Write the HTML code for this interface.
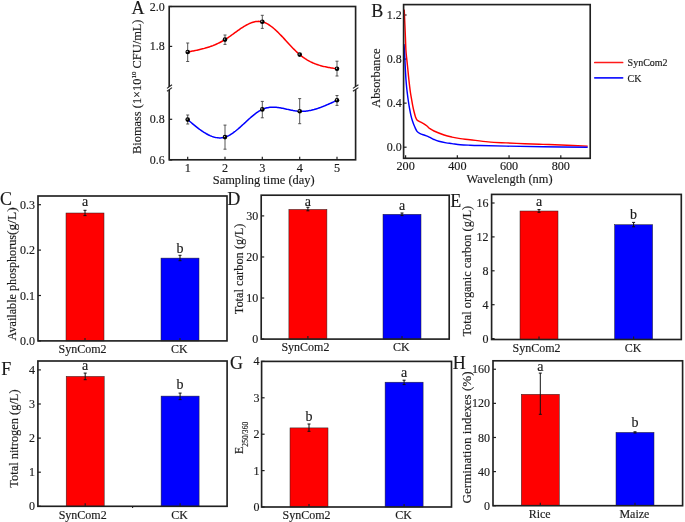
<!DOCTYPE html><html><head><meta charset="utf-8"><style>html,body{margin:0;padding:0;background:#fff;overflow:hidden}svg{display:block;will-change:transform}text{font-family:"Liberation Serif",serif;stroke:#1a1a1a;stroke-width:0.15px}</style></head><body><svg width="685" height="522" viewBox="0 0 685 522" font-family='"Liberation Serif", serif' fill="#1a1a1a">
<rect width="685" height="522" fill="#fff"/>
<path d="M187.70,52.00 L188.63,51.82 L189.56,51.65 L190.50,51.47 L191.43,51.29 L192.36,51.11 L193.29,50.93 L194.23,50.74 L195.16,50.55 L196.09,50.36 L197.02,50.16 L197.96,49.96 L198.89,49.75 L199.82,49.53 L200.75,49.31 L201.69,49.08 L202.62,48.85 L203.55,48.60 L204.48,48.35 L205.42,48.09 L206.35,47.82 L207.28,47.54 L208.22,47.24 L209.15,46.94 L210.08,46.63 L211.01,46.30 L211.94,45.96 L212.88,45.61 L213.81,45.24 L214.74,44.86 L215.68,44.47 L216.61,44.06 L217.54,43.63 L218.47,43.19 L219.41,42.73 L220.34,42.25 L221.27,41.76 L222.20,41.25 L223.13,40.72 L224.07,40.17 L225.00,39.60 L225.93,39.01 L226.87,38.40 L227.80,37.78 L228.73,37.14 L229.66,36.49 L230.59,35.84 L231.53,35.17 L232.46,34.49 L233.39,33.82 L234.32,33.14 L235.26,32.46 L236.19,31.78 L237.12,31.11 L238.06,30.44 L238.99,29.78 L239.92,29.13 L240.85,28.49 L241.78,27.87 L242.72,27.26 L243.65,26.67 L244.58,26.10 L245.52,25.56 L246.45,25.03 L247.38,24.54 L248.31,24.07 L249.25,23.63 L250.18,23.22 L251.11,22.85 L252.04,22.52 L252.98,22.22 L253.91,21.96 L254.84,21.75 L255.77,21.58 L256.71,21.46 L257.64,21.38 L258.57,21.36 L259.50,21.38 L260.44,21.47 L261.37,21.60 L262.30,21.80 L263.24,22.06 L264.17,22.37 L265.11,22.74 L266.04,23.17 L266.98,23.65 L267.91,24.17 L268.85,24.75 L269.78,25.36 L270.72,26.02 L271.65,26.72 L272.58,27.46 L273.52,28.23 L274.45,29.03 L275.39,29.87 L276.32,30.73 L277.26,31.62 L278.19,32.53 L279.13,33.47 L280.06,34.42 L281.00,35.39 L281.94,36.37 L282.87,37.36 L283.81,38.37 L284.74,39.38 L285.68,40.39 L286.61,41.41 L287.55,42.43 L288.48,43.44 L289.41,44.45 L290.35,45.46 L291.28,46.45 L292.22,47.43 L293.15,48.40 L294.09,49.36 L295.02,50.29 L295.96,51.20 L296.89,52.09 L297.83,52.96 L298.76,53.79 L299.70,54.60 L300.66,55.39 L301.61,56.15 L302.57,56.87 L303.53,57.57 L304.48,58.23 L305.44,58.87 L306.39,59.47 L307.35,60.05 L308.31,60.60 L309.26,61.12 L310.22,61.62 L311.18,62.09 L312.13,62.54 L313.09,62.97 L314.05,63.37 L315.00,63.76 L315.96,64.12 L316.92,64.46 L317.87,64.79 L318.83,65.10 L319.78,65.39 L320.74,65.67 L321.70,65.93 L322.65,66.18 L323.61,66.41 L324.57,66.63 L325.52,66.84 L326.48,67.04 L327.44,67.23 L328.39,67.41 L329.35,67.59 L330.31,67.76 L331.26,67.92 L332.22,68.07 L333.17,68.22 L334.13,68.37 L335.09,68.51 L336.04,68.66 L337.00,68.80" fill="none" stroke="#ff0000" stroke-width="1.5"/>
<path d="M187.70,119.60 L188.63,120.40 L189.56,121.20 L190.50,121.99 L191.43,122.78 L192.36,123.57 L193.29,124.34 L194.23,125.11 L195.16,125.87 L196.09,126.62 L197.02,127.36 L197.96,128.09 L198.89,128.79 L199.82,129.49 L200.75,130.16 L201.69,130.82 L202.62,131.45 L203.55,132.07 L204.48,132.66 L205.42,133.23 L206.35,133.77 L207.28,134.28 L208.22,134.77 L209.15,135.22 L210.08,135.65 L211.01,136.04 L211.94,136.40 L212.88,136.72 L213.81,137.01 L214.74,137.26 L215.68,137.47 L216.61,137.63 L217.54,137.76 L218.47,137.84 L219.41,137.88 L220.34,137.88 L221.27,137.82 L222.20,137.72 L223.13,137.56 L224.07,137.36 L225.00,137.10 L225.93,136.79 L226.87,136.43 L227.80,136.01 L228.73,135.55 L229.66,135.05 L230.59,134.51 L231.53,133.92 L232.46,133.30 L233.39,132.65 L234.32,131.96 L235.26,131.25 L236.19,130.51 L237.12,129.75 L238.06,128.96 L238.99,128.16 L239.92,127.34 L240.85,126.50 L241.78,125.66 L242.72,124.81 L243.65,123.95 L244.58,123.08 L245.52,122.22 L246.45,121.36 L247.38,120.50 L248.31,119.65 L249.25,118.81 L250.18,117.98 L251.11,117.16 L252.04,116.36 L252.98,115.58 L253.91,114.82 L254.84,114.09 L255.77,113.38 L256.71,112.70 L257.64,112.06 L258.57,111.45 L259.50,110.87 L260.44,110.34 L261.37,109.85 L262.30,109.40 L263.24,109.00 L264.17,108.64 L265.11,108.33 L266.04,108.06 L266.98,107.83 L267.91,107.64 L268.85,107.48 L269.78,107.36 L270.72,107.28 L271.65,107.22 L272.58,107.20 L273.52,107.20 L274.45,107.23 L275.39,107.28 L276.32,107.36 L277.26,107.45 L278.19,107.57 L279.13,107.70 L280.06,107.84 L281.00,108.01 L281.94,108.18 L282.87,108.36 L283.81,108.55 L284.74,108.75 L285.68,108.95 L286.61,109.15 L287.55,109.36 L288.48,109.56 L289.41,109.76 L290.35,109.96 L291.28,110.15 L292.22,110.33 L293.15,110.51 L294.09,110.67 L295.02,110.82 L295.96,110.95 L296.89,111.07 L297.83,111.17 L298.76,111.24 L299.70,111.30 L300.66,111.33 L301.61,111.34 L302.57,111.32 L303.53,111.28 L304.48,111.22 L305.44,111.14 L306.39,111.03 L307.35,110.91 L308.31,110.76 L309.26,110.60 L310.22,110.41 L311.18,110.21 L312.13,109.99 L313.09,109.76 L314.05,109.51 L315.00,109.24 L315.96,108.96 L316.92,108.66 L317.87,108.35 L318.83,108.03 L319.78,107.69 L320.74,107.34 L321.70,106.99 L322.65,106.62 L323.61,106.24 L324.57,105.85 L325.52,105.46 L326.48,105.06 L327.44,104.65 L328.39,104.23 L329.35,103.81 L330.31,103.38 L331.26,102.95 L332.22,102.51 L333.17,102.07 L334.13,101.63 L335.09,101.19 L336.04,100.75 L337.00,100.30" fill="none" stroke="#0000ff" stroke-width="1.5"/>
<line x1="187.70" y1="43.00" x2="187.70" y2="61.50" stroke="#444" stroke-width="0.9"/>
<line x1="186.20" y1="43.00" x2="189.20" y2="43.00" stroke="#444" stroke-width="0.9"/>
<line x1="186.20" y1="61.50" x2="189.20" y2="61.50" stroke="#444" stroke-width="0.9"/>
<line x1="225.00" y1="35.00" x2="225.00" y2="44.40" stroke="#444" stroke-width="0.9"/>
<line x1="223.50" y1="35.00" x2="226.50" y2="35.00" stroke="#444" stroke-width="0.9"/>
<line x1="223.50" y1="44.40" x2="226.50" y2="44.40" stroke="#444" stroke-width="0.9"/>
<line x1="262.30" y1="15.30" x2="262.30" y2="28.40" stroke="#444" stroke-width="0.9"/>
<line x1="260.80" y1="15.30" x2="263.80" y2="15.30" stroke="#444" stroke-width="0.9"/>
<line x1="260.80" y1="28.40" x2="263.80" y2="28.40" stroke="#444" stroke-width="0.9"/>
<line x1="299.70" y1="53.50" x2="299.70" y2="55.60" stroke="#444" stroke-width="0.9"/>
<line x1="298.20" y1="53.50" x2="301.20" y2="53.50" stroke="#444" stroke-width="0.9"/>
<line x1="298.20" y1="55.60" x2="301.20" y2="55.60" stroke="#444" stroke-width="0.9"/>
<line x1="337.00" y1="61.20" x2="337.00" y2="76.00" stroke="#444" stroke-width="0.9"/>
<line x1="335.50" y1="61.20" x2="338.50" y2="61.20" stroke="#444" stroke-width="0.9"/>
<line x1="335.50" y1="76.00" x2="338.50" y2="76.00" stroke="#444" stroke-width="0.9"/>
<line x1="187.70" y1="115.00" x2="187.70" y2="124.00" stroke="#444" stroke-width="0.9"/>
<line x1="186.20" y1="115.00" x2="189.20" y2="115.00" stroke="#444" stroke-width="0.9"/>
<line x1="186.20" y1="124.00" x2="189.20" y2="124.00" stroke="#444" stroke-width="0.9"/>
<line x1="225.00" y1="125.10" x2="225.00" y2="149.20" stroke="#444" stroke-width="0.9"/>
<line x1="223.50" y1="125.10" x2="226.50" y2="125.10" stroke="#444" stroke-width="0.9"/>
<line x1="223.50" y1="149.20" x2="226.50" y2="149.20" stroke="#444" stroke-width="0.9"/>
<line x1="262.30" y1="101.40" x2="262.30" y2="117.80" stroke="#444" stroke-width="0.9"/>
<line x1="260.80" y1="101.40" x2="263.80" y2="101.40" stroke="#444" stroke-width="0.9"/>
<line x1="260.80" y1="117.80" x2="263.80" y2="117.80" stroke="#444" stroke-width="0.9"/>
<line x1="299.70" y1="98.60" x2="299.70" y2="123.70" stroke="#444" stroke-width="0.9"/>
<line x1="298.20" y1="98.60" x2="301.20" y2="98.60" stroke="#444" stroke-width="0.9"/>
<line x1="298.20" y1="123.70" x2="301.20" y2="123.70" stroke="#444" stroke-width="0.9"/>
<line x1="337.00" y1="95.50" x2="337.00" y2="105.40" stroke="#444" stroke-width="0.9"/>
<line x1="335.50" y1="95.50" x2="338.50" y2="95.50" stroke="#444" stroke-width="0.9"/>
<line x1="335.50" y1="105.40" x2="338.50" y2="105.40" stroke="#444" stroke-width="0.9"/>
<circle cx="187.7" cy="52.0" r="2.3" fill="#000"/>
<circle cx="187.2" cy="51.5" r="0.7" fill="#ccc"/>
<circle cx="225.0" cy="39.6" r="2.3" fill="#000"/>
<circle cx="224.5" cy="39.1" r="0.7" fill="#ccc"/>
<circle cx="262.3" cy="21.8" r="2.3" fill="#000"/>
<circle cx="261.8" cy="21.3" r="0.7" fill="#ccc"/>
<circle cx="299.7" cy="54.6" r="2.3" fill="#000"/>
<circle cx="299.2" cy="54.1" r="0.7" fill="#ccc"/>
<circle cx="337.0" cy="68.8" r="2.3" fill="#000"/>
<circle cx="336.5" cy="68.3" r="0.7" fill="#ccc"/>
<circle cx="187.7" cy="119.6" r="2.3" fill="#000"/>
<circle cx="187.2" cy="119.1" r="0.7" fill="#ccc"/>
<circle cx="225.0" cy="137.1" r="2.3" fill="#000"/>
<circle cx="224.5" cy="136.6" r="0.7" fill="#ccc"/>
<circle cx="262.3" cy="109.4" r="2.3" fill="#000"/>
<circle cx="261.8" cy="108.9" r="0.7" fill="#ccc"/>
<circle cx="299.7" cy="111.3" r="2.3" fill="#000"/>
<circle cx="299.2" cy="110.8" r="0.7" fill="#ccc"/>
<circle cx="337.0" cy="100.3" r="2.3" fill="#000"/>
<circle cx="336.5" cy="99.8" r="0.7" fill="#ccc"/>
<rect x="169.2" y="6.5" width="186.40" height="153.30" fill="none" stroke="#202020" stroke-width="1.65"/>
<polygon points="167.0,88.4 172.0,84.8 172.0,87.6 167.0,91.2" fill="#fff"/>
<line x1="167.0" y1="88.4" x2="172.0" y2="84.8" stroke="#202020" stroke-width="1.1"/>
<line x1="167.0" y1="91.2" x2="172.0" y2="87.6" stroke="#202020" stroke-width="1.1"/>
<polygon points="352.9,88.4 358.4,84.8 358.4,87.6 352.9,91.2" fill="#fff"/>
<line x1="352.9" y1="88.4" x2="358.4" y2="84.8" stroke="#202020" stroke-width="1.1"/>
<line x1="352.9" y1="91.2" x2="358.4" y2="87.6" stroke="#202020" stroke-width="1.1"/>
<line x1="169.2" y1="6.50" x2="172.2" y2="6.50" stroke="#202020" stroke-width="1.2"/>
<text x="164.80" y="10.58" font-size="12" text-anchor="end" >2.0</text>
<line x1="169.2" y1="46.40" x2="172.2" y2="46.40" stroke="#202020" stroke-width="1.2"/>
<text x="164.80" y="50.48" font-size="12" text-anchor="end" >1.8</text>
<line x1="169.2" y1="119.30" x2="172.2" y2="119.30" stroke="#202020" stroke-width="1.2"/>
<text x="164.80" y="123.38" font-size="12" text-anchor="end" >0.8</text>
<line x1="169.2" y1="160.00" x2="172.2" y2="160.00" stroke="#202020" stroke-width="1.2"/>
<text x="164.80" y="164.08" font-size="12" text-anchor="end" >0.6</text>
<line x1="187.70" y1="159.8" x2="187.70" y2="156.8" stroke="#202020" stroke-width="1.2"/>
<text x="187.70" y="171.60" font-size="12.2" text-anchor="middle" >1</text>
<line x1="225.00" y1="159.8" x2="225.00" y2="156.8" stroke="#202020" stroke-width="1.2"/>
<text x="225.00" y="171.60" font-size="12.2" text-anchor="middle" >2</text>
<line x1="262.30" y1="159.8" x2="262.30" y2="156.8" stroke="#202020" stroke-width="1.2"/>
<text x="262.30" y="171.60" font-size="12.2" text-anchor="middle" >3</text>
<line x1="299.70" y1="159.8" x2="299.70" y2="156.8" stroke="#202020" stroke-width="1.2"/>
<text x="299.70" y="171.60" font-size="12.2" text-anchor="middle" >4</text>
<line x1="337.00" y1="159.8" x2="337.00" y2="156.8" stroke="#202020" stroke-width="1.2"/>
<text x="337.00" y="171.60" font-size="12.2" text-anchor="middle" >5</text>
<text x="263.70" y="183.60" font-size="12.4" text-anchor="middle" >Sampling time (day)</text>
<text x="0" y="0" font-size="12.4" text-anchor="start" transform="translate(140.90,154.00) rotate(-90)">Biomass (1×10<tspan font-size="7" dy="-4.5">10</tspan><tspan dy="4.5"> CFU/mL)</tspan></text>
<text x="131.50" y="13.60" font-size="18" text-anchor="start" >A</text>
<line x1="403.6" y1="147.20" x2="406.6" y2="147.20" stroke="#202020" stroke-width="1.2"/>
<text x="401.80" y="151.28" font-size="12" text-anchor="end" >0.0</text>
<line x1="403.6" y1="103.13" x2="406.6" y2="103.13" stroke="#202020" stroke-width="1.2"/>
<text x="401.80" y="107.21" font-size="12" text-anchor="end" >0.4</text>
<line x1="403.6" y1="59.07" x2="406.6" y2="59.07" stroke="#202020" stroke-width="1.2"/>
<text x="401.80" y="63.15" font-size="12" text-anchor="end" >0.8</text>
<line x1="403.6" y1="15.00" x2="406.6" y2="15.00" stroke="#202020" stroke-width="1.2"/>
<text x="401.80" y="19.08" font-size="12" text-anchor="end" >1.2</text>
<path d="M404.20,9.60 C404.32,12.17 404.70,20.43 404.90,25.00 C405.10,29.57 405.23,32.83 405.40,37.00 C405.57,41.17 405.70,46.58 405.90,50.00 C406.10,53.42 406.35,55.00 406.60,57.50 C406.85,60.00 407.15,62.58 407.40,65.00 C407.65,67.42 407.87,69.67 408.10,72.00 C408.33,74.33 408.55,76.67 408.80,79.00 C409.05,81.33 409.32,83.67 409.60,86.00 C409.88,88.33 410.15,90.67 410.50,93.00 C410.85,95.33 411.32,97.82 411.70,100.00 C412.08,102.18 412.42,104.18 412.80,106.10 C413.18,108.02 413.55,109.70 414.00,111.50 C414.45,113.30 415.00,115.50 415.50,116.90 C416.00,118.30 416.23,119.08 417.00,119.90 C417.77,120.72 418.95,121.15 420.10,121.80 C421.25,122.45 422.75,123.10 423.90,123.80 C425.05,124.50 425.98,125.18 427.00,126.00 C428.02,126.82 428.83,127.87 430.00,128.70 C431.17,129.53 431.65,129.95 434.00,131.00 C436.35,132.05 441.10,133.98 444.10,135.00 C447.10,136.02 449.30,136.50 452.00,137.10 C454.70,137.70 457.30,138.17 460.30,138.60 C463.30,139.03 465.35,139.15 470.00,139.70 C474.65,140.25 482.20,141.37 488.20,141.90 C494.20,142.43 499.92,142.60 506.00,142.90 C512.08,143.20 518.53,143.45 524.70,143.70 C530.87,143.95 536.92,144.18 543.00,144.40 C549.08,144.62 553.75,144.72 561.20,145.00 C568.65,145.28 583.28,145.92 587.70,146.10" fill="none" stroke="#ff0000" stroke-width="1.45" stroke-linejoin="round"/>
<path d="M403.90,44.00 C403.98,45.00 404.23,47.33 404.40,50.00 C404.57,52.67 404.73,56.67 404.90,60.00 C405.07,63.33 405.22,66.67 405.40,70.00 C405.58,73.33 405.78,77.00 406.00,80.00 C406.22,83.00 406.47,85.67 406.70,88.00 C406.93,90.33 407.15,92.00 407.40,94.00 C407.65,96.00 407.87,97.72 408.20,100.00 C408.53,102.28 408.95,105.15 409.40,107.70 C409.85,110.25 410.40,113.13 410.90,115.30 C411.40,117.47 411.77,118.78 412.40,120.70 C413.03,122.62 413.93,125.02 414.70,126.80 C415.47,128.58 416.10,130.25 417.00,131.40 C417.90,132.55 418.82,133.07 420.10,133.70 C421.38,134.33 423.42,134.75 424.70,135.20 C425.98,135.65 426.78,135.95 427.80,136.40 C428.82,136.85 429.77,137.38 430.80,137.90 C431.83,138.42 432.67,138.93 434.00,139.50 C435.33,140.07 436.77,140.73 438.80,141.30 C440.83,141.87 444.00,142.52 446.20,142.90 C448.40,143.28 449.65,143.30 452.00,143.60 C454.35,143.90 457.30,144.43 460.30,144.70 C463.30,144.97 466.72,145.07 470.00,145.20 C473.28,145.33 473.92,145.35 480.00,145.50 C486.08,145.65 496.00,145.88 506.50,146.10 C517.00,146.32 529.47,146.62 543.00,146.80 C556.53,146.98 580.25,147.13 587.70,147.20" fill="none" stroke="#0000ff" stroke-width="1.45" stroke-linejoin="round"/>
<rect x="403.6" y="4.6" width="186.60" height="153.70" fill="none" stroke="#202020" stroke-width="1.65"/>
<line x1="405.60" y1="158.3" x2="405.60" y2="155.3" stroke="#202020" stroke-width="1.2"/>
<text x="405.60" y="170.10" font-size="12.2" text-anchor="middle" >200</text>
<line x1="457.33" y1="158.3" x2="457.33" y2="155.3" stroke="#202020" stroke-width="1.2"/>
<text x="457.33" y="170.10" font-size="12.2" text-anchor="middle" >400</text>
<line x1="509.07" y1="158.3" x2="509.07" y2="155.3" stroke="#202020" stroke-width="1.2"/>
<text x="509.07" y="170.10" font-size="12.2" text-anchor="middle" >600</text>
<line x1="560.80" y1="158.3" x2="560.80" y2="155.3" stroke="#202020" stroke-width="1.2"/>
<text x="560.80" y="170.10" font-size="12.2" text-anchor="middle" >800</text>
<text x="509.50" y="183.00" font-size="12.4" text-anchor="middle" >Wavelength (nm)</text>
<text x="0" y="0" font-size="12.4" text-anchor="start" transform="translate(380.00,107.80) rotate(-90)">Absorbance</text>
<text x="371.30" y="16.60" font-size="18" text-anchor="start" >B</text>
<line x1="594.8" y1="62.5" x2="622.6" y2="62.5" stroke="#ff1a1a" stroke-width="1.7" stroke-linecap="round"/>
<line x1="594.8" y1="77.8" x2="622.6" y2="77.8" stroke="#1a1aff" stroke-width="1.7" stroke-linecap="round"/>
<text x="627.60" y="66.00" font-size="10" text-anchor="start" >SynCom2</text>
<text x="627.60" y="81.60" font-size="10" text-anchor="start" >CK</text>
<rect x="66.00" y="213.00" width="38" height="127.90" fill="#ff0000" stroke="#222" stroke-width="0.5"/>
<line x1="85.00" y1="210.30" x2="85.00" y2="215.60" stroke="#111" stroke-width="1.0"/>
<line x1="83.50" y1="210.30" x2="86.50" y2="210.30" stroke="#111" stroke-width="1.0"/>
<line x1="83.50" y1="215.60" x2="86.50" y2="215.60" stroke="#111" stroke-width="1.0"/>
<text x="85.00" y="205.90" font-size="14" text-anchor="middle" >a</text>
<rect x="161.00" y="258.10" width="38" height="82.80" fill="#0000ff" stroke="#222" stroke-width="0.5"/>
<line x1="180.00" y1="255.30" x2="180.00" y2="260.70" stroke="#111" stroke-width="1.0"/>
<line x1="178.50" y1="255.30" x2="181.50" y2="255.30" stroke="#111" stroke-width="1.0"/>
<line x1="178.50" y1="260.70" x2="181.50" y2="260.70" stroke="#111" stroke-width="1.0"/>
<text x="180.00" y="253.40" font-size="14" text-anchor="middle" >b</text>
<rect x="38.0" y="196.0" width="189.00" height="144.90" fill="none" stroke="#202020" stroke-width="1.65"/>
<line x1="38.0" y1="340.90" x2="41.0" y2="340.90" stroke="#202020" stroke-width="1.2"/>
<text x="35.00" y="344.98" font-size="12" text-anchor="end" >0.0</text>
<line x1="38.0" y1="295.50" x2="41.0" y2="295.50" stroke="#202020" stroke-width="1.2"/>
<text x="35.00" y="299.58" font-size="12" text-anchor="end" >0.1</text>
<line x1="38.0" y1="250.10" x2="41.0" y2="250.10" stroke="#202020" stroke-width="1.2"/>
<text x="35.00" y="254.18" font-size="12" text-anchor="end" >0.2</text>
<line x1="38.0" y1="204.70" x2="41.0" y2="204.70" stroke="#202020" stroke-width="1.2"/>
<text x="35.00" y="208.78" font-size="12" text-anchor="end" >0.3</text>
<line x1="85.00" y1="340.9" x2="85.00" y2="337.9" stroke="#202020" stroke-width="1.2"/>
<text x="82.50" y="353.10" font-size="12" text-anchor="middle" >SynCom2</text>
<line x1="180.00" y1="340.9" x2="180.00" y2="337.9" stroke="#202020" stroke-width="1.2"/>
<text x="179.40" y="353.10" font-size="12" text-anchor="middle" >CK</text>
<text x="0" y="0" font-size="12.16" text-anchor="start" transform="translate(15.80,340.40) rotate(-90)">Available phosphorus<tspan font-size="13.5">(g/L)</tspan></text>
<text x="0.00" y="204.60" font-size="18" text-anchor="start" >C</text>
<rect x="288.90" y="209.40" width="38" height="129.70" fill="#ff0000" stroke="#222" stroke-width="0.5"/>
<line x1="307.90" y1="207.30" x2="307.90" y2="210.80" stroke="#111" stroke-width="1.0"/>
<line x1="306.40" y1="207.30" x2="309.40" y2="207.30" stroke="#111" stroke-width="1.0"/>
<line x1="306.40" y1="210.80" x2="309.40" y2="210.80" stroke="#111" stroke-width="1.0"/>
<text x="307.90" y="205.60" font-size="14" text-anchor="middle" >a</text>
<rect x="383.00" y="214.30" width="38" height="124.80" fill="#0000ff" stroke="#222" stroke-width="0.5"/>
<line x1="402.00" y1="213.00" x2="402.00" y2="215.60" stroke="#111" stroke-width="1.0"/>
<line x1="400.50" y1="213.00" x2="403.50" y2="213.00" stroke="#111" stroke-width="1.0"/>
<line x1="400.50" y1="215.60" x2="403.50" y2="215.60" stroke="#111" stroke-width="1.0"/>
<text x="402.00" y="209.60" font-size="14" text-anchor="middle" >a</text>
<rect x="261.2" y="195.2" width="188.00" height="143.90" fill="none" stroke="#202020" stroke-width="1.65"/>
<line x1="261.2" y1="339.10" x2="264.2" y2="339.10" stroke="#202020" stroke-width="1.2"/>
<text x="258.20" y="343.18" font-size="12" text-anchor="end" >0</text>
<line x1="261.2" y1="298.03" x2="264.2" y2="298.03" stroke="#202020" stroke-width="1.2"/>
<text x="258.20" y="302.11" font-size="12" text-anchor="end" >10</text>
<line x1="261.2" y1="256.97" x2="264.2" y2="256.97" stroke="#202020" stroke-width="1.2"/>
<text x="258.20" y="261.05" font-size="12" text-anchor="end" >20</text>
<line x1="261.2" y1="215.90" x2="264.2" y2="215.90" stroke="#202020" stroke-width="1.2"/>
<text x="258.20" y="219.98" font-size="12" text-anchor="end" >30</text>
<line x1="307.90" y1="339.1" x2="307.90" y2="336.1" stroke="#202020" stroke-width="1.2"/>
<text x="305.40" y="351.30" font-size="12" text-anchor="middle" >SynCom2</text>
<line x1="402.00" y1="339.1" x2="402.00" y2="336.1" stroke="#202020" stroke-width="1.2"/>
<text x="401.40" y="351.30" font-size="12" text-anchor="middle" >CK</text>
<text x="0" y="0" font-size="12.4" text-anchor="start" transform="translate(242.80,314.30) rotate(-90)">Total carbon (g/L)</text>
<text x="227.30" y="205.30" font-size="18" text-anchor="start" >D</text>
<rect x="520.00" y="211.00" width="38" height="128.50" fill="#ff0000" stroke="#222" stroke-width="0.5"/>
<line x1="539.00" y1="209.60" x2="539.00" y2="212.30" stroke="#111" stroke-width="1.0"/>
<line x1="537.50" y1="209.60" x2="540.50" y2="209.60" stroke="#111" stroke-width="1.0"/>
<line x1="537.50" y1="212.30" x2="540.50" y2="212.30" stroke="#111" stroke-width="1.0"/>
<text x="539.00" y="205.90" font-size="14" text-anchor="middle" >a</text>
<rect x="614.60" y="224.70" width="38" height="114.80" fill="#0000ff" stroke="#222" stroke-width="0.5"/>
<line x1="633.60" y1="222.40" x2="633.60" y2="226.80" stroke="#111" stroke-width="1.0"/>
<line x1="632.10" y1="222.40" x2="635.10" y2="222.40" stroke="#111" stroke-width="1.0"/>
<line x1="632.10" y1="226.80" x2="635.10" y2="226.80" stroke="#111" stroke-width="1.0"/>
<text x="633.60" y="219.20" font-size="14" text-anchor="middle" >b</text>
<rect x="491.6" y="194.4" width="189.70" height="145.10" fill="none" stroke="#202020" stroke-width="1.65"/>
<line x1="491.6" y1="338.60" x2="494.6" y2="338.60" stroke="#202020" stroke-width="1.2"/>
<text x="488.60" y="342.68" font-size="12" text-anchor="end" >0</text>
<line x1="491.6" y1="304.70" x2="494.6" y2="304.70" stroke="#202020" stroke-width="1.2"/>
<text x="488.60" y="308.78" font-size="12" text-anchor="end" >4</text>
<line x1="491.6" y1="270.80" x2="494.6" y2="270.80" stroke="#202020" stroke-width="1.2"/>
<text x="488.60" y="274.88" font-size="12" text-anchor="end" >8</text>
<line x1="491.6" y1="236.90" x2="494.6" y2="236.90" stroke="#202020" stroke-width="1.2"/>
<text x="488.60" y="240.98" font-size="12" text-anchor="end" >12</text>
<line x1="491.6" y1="203.00" x2="494.6" y2="203.00" stroke="#202020" stroke-width="1.2"/>
<text x="488.60" y="207.08" font-size="12" text-anchor="end" >16</text>
<line x1="539.00" y1="339.5" x2="539.00" y2="336.5" stroke="#202020" stroke-width="1.2"/>
<text x="536.50" y="351.70" font-size="12" text-anchor="middle" >SynCom2</text>
<line x1="633.60" y1="339.5" x2="633.60" y2="336.5" stroke="#202020" stroke-width="1.2"/>
<text x="633.00" y="351.70" font-size="12" text-anchor="middle" >CK</text>
<text x="0" y="0" font-size="12.4" text-anchor="start" transform="translate(470.60,336.60) rotate(-90)">Total organic carbon (g/L)</text>
<text x="450.20" y="207.00" font-size="18" text-anchor="start" >E</text>
<rect x="66.20" y="376.40" width="38" height="129.90" fill="#ff0000" stroke="#222" stroke-width="0.5"/>
<line x1="85.20" y1="373.10" x2="85.20" y2="379.70" stroke="#111" stroke-width="1.0"/>
<line x1="83.70" y1="373.10" x2="86.70" y2="373.10" stroke="#111" stroke-width="1.0"/>
<line x1="83.70" y1="379.70" x2="86.70" y2="379.70" stroke="#111" stroke-width="1.0"/>
<text x="85.20" y="370.30" font-size="14" text-anchor="middle" >a</text>
<rect x="161.10" y="396.10" width="38" height="110.20" fill="#0000ff" stroke="#222" stroke-width="0.5"/>
<line x1="180.10" y1="393.10" x2="180.10" y2="399.60" stroke="#111" stroke-width="1.0"/>
<line x1="178.60" y1="393.10" x2="181.60" y2="393.10" stroke="#111" stroke-width="1.0"/>
<line x1="178.60" y1="399.60" x2="181.60" y2="399.60" stroke="#111" stroke-width="1.0"/>
<text x="180.10" y="388.80" font-size="14" text-anchor="middle" >b</text>
<rect x="37.9" y="361.0" width="189.20" height="145.30" fill="none" stroke="#202020" stroke-width="1.65"/>
<line x1="37.9" y1="506.30" x2="40.9" y2="506.30" stroke="#202020" stroke-width="1.2"/>
<text x="34.90" y="510.38" font-size="12" text-anchor="end" >0</text>
<line x1="37.9" y1="472.20" x2="40.9" y2="472.20" stroke="#202020" stroke-width="1.2"/>
<text x="34.90" y="476.28" font-size="12" text-anchor="end" >1</text>
<line x1="37.9" y1="438.10" x2="40.9" y2="438.10" stroke="#202020" stroke-width="1.2"/>
<text x="34.90" y="442.18" font-size="12" text-anchor="end" >2</text>
<line x1="37.9" y1="404.00" x2="40.9" y2="404.00" stroke="#202020" stroke-width="1.2"/>
<text x="34.90" y="408.08" font-size="12" text-anchor="end" >3</text>
<line x1="37.9" y1="369.90" x2="40.9" y2="369.90" stroke="#202020" stroke-width="1.2"/>
<text x="34.90" y="373.98" font-size="12" text-anchor="end" >4</text>
<line x1="85.20" y1="506.3" x2="85.20" y2="503.3" stroke="#202020" stroke-width="1.2"/>
<text x="82.70" y="518.50" font-size="12" text-anchor="middle" >SynCom2</text>
<line x1="180.10" y1="506.3" x2="180.10" y2="503.3" stroke="#202020" stroke-width="1.2"/>
<text x="179.50" y="518.50" font-size="12" text-anchor="middle" >CK</text>
<text x="0" y="0" font-size="12.4" text-anchor="start" transform="translate(17.50,487.70) rotate(-90)">Total nitrogen (g/L)</text>
<line x1="132.6" y1="506.3" x2="132.6" y2="508.1" stroke="#202020" stroke-width="1.1"/>
<text x="1.20" y="375.20" font-size="18" text-anchor="start" >F</text>
<rect x="290.00" y="427.90" width="38" height="79.10" fill="#ff0000" stroke="#222" stroke-width="0.5"/>
<line x1="309.00" y1="424.00" x2="309.00" y2="431.30" stroke="#111" stroke-width="1.0"/>
<line x1="307.50" y1="424.00" x2="310.50" y2="424.00" stroke="#111" stroke-width="1.0"/>
<line x1="307.50" y1="431.30" x2="310.50" y2="431.30" stroke="#111" stroke-width="1.0"/>
<text x="309.00" y="421.20" font-size="14" text-anchor="middle" >b</text>
<rect x="385.10" y="382.20" width="38" height="124.80" fill="#0000ff" stroke="#222" stroke-width="0.5"/>
<line x1="404.10" y1="380.20" x2="404.10" y2="384.60" stroke="#111" stroke-width="1.0"/>
<line x1="402.60" y1="380.20" x2="405.60" y2="380.20" stroke="#111" stroke-width="1.0"/>
<line x1="402.60" y1="384.60" x2="405.60" y2="384.60" stroke="#111" stroke-width="1.0"/>
<text x="404.10" y="376.80" font-size="14" text-anchor="middle" >a</text>
<rect x="261.6" y="361.4" width="189.90" height="145.60" fill="none" stroke="#202020" stroke-width="1.65"/>
<line x1="261.6" y1="507.00" x2="264.6" y2="507.00" stroke="#202020" stroke-width="1.2"/>
<text x="259.40" y="511.08" font-size="12" text-anchor="end" >0</text>
<line x1="261.6" y1="470.60" x2="264.6" y2="470.60" stroke="#202020" stroke-width="1.2"/>
<text x="259.40" y="474.68" font-size="12" text-anchor="end" >1</text>
<line x1="261.6" y1="434.20" x2="264.6" y2="434.20" stroke="#202020" stroke-width="1.2"/>
<text x="259.40" y="438.28" font-size="12" text-anchor="end" >2</text>
<line x1="261.6" y1="397.80" x2="264.6" y2="397.80" stroke="#202020" stroke-width="1.2"/>
<text x="259.40" y="401.88" font-size="12" text-anchor="end" >3</text>
<line x1="261.6" y1="361.40" x2="264.6" y2="361.40" stroke="#202020" stroke-width="1.2"/>
<text x="259.40" y="365.48" font-size="12" text-anchor="end" >4</text>
<line x1="309.00" y1="507.0" x2="309.00" y2="504.0" stroke="#202020" stroke-width="1.2"/>
<text x="306.50" y="519.20" font-size="12" text-anchor="middle" >SynCom2</text>
<line x1="404.10" y1="507.0" x2="404.10" y2="504.0" stroke="#202020" stroke-width="1.2"/>
<text x="403.50" y="519.20" font-size="12" text-anchor="middle" >CK</text>
<text x="230.00" y="368.60" font-size="18" text-anchor="start" >G</text>
<text font-size="12" transform="translate(243.2,454.0) rotate(-90)">E<tspan font-size="7.6" dy="4.6">250/360</tspan></text>
<rect x="521.30" y="394.30" width="38" height="111.40" fill="#ff0000" stroke="#222" stroke-width="0.5"/>
<line x1="540.30" y1="373.10" x2="540.30" y2="414.30" stroke="#111" stroke-width="1.0"/>
<line x1="538.80" y1="373.10" x2="541.80" y2="373.10" stroke="#111" stroke-width="1.0"/>
<line x1="538.80" y1="414.30" x2="541.80" y2="414.30" stroke="#111" stroke-width="1.0"/>
<text x="540.30" y="370.80" font-size="14" text-anchor="middle" >a</text>
<rect x="616.00" y="432.40" width="38" height="73.30" fill="#0000ff" stroke="#222" stroke-width="0.5"/>
<line x1="635.00" y1="431.80" x2="635.00" y2="433.00" stroke="#111" stroke-width="1.0"/>
<line x1="633.50" y1="431.80" x2="636.50" y2="431.80" stroke="#111" stroke-width="1.0"/>
<line x1="633.50" y1="433.00" x2="636.50" y2="433.00" stroke="#111" stroke-width="1.0"/>
<text x="635.00" y="427.00" font-size="14" text-anchor="middle" >b</text>
<rect x="493.0" y="360.8" width="189.60" height="144.90" fill="none" stroke="#202020" stroke-width="1.65"/>
<line x1="493.0" y1="505.70" x2="496.0" y2="505.70" stroke="#202020" stroke-width="1.2"/>
<text x="490.00" y="509.78" font-size="12" text-anchor="end" >0</text>
<line x1="493.0" y1="471.59" x2="496.0" y2="471.59" stroke="#202020" stroke-width="1.2"/>
<text x="490.00" y="475.67" font-size="12" text-anchor="end" >40</text>
<line x1="493.0" y1="437.48" x2="496.0" y2="437.48" stroke="#202020" stroke-width="1.2"/>
<text x="490.00" y="441.56" font-size="12" text-anchor="end" >80</text>
<line x1="493.0" y1="403.36" x2="496.0" y2="403.36" stroke="#202020" stroke-width="1.2"/>
<text x="490.00" y="407.44" font-size="12" text-anchor="end" >120</text>
<line x1="493.0" y1="369.25" x2="496.0" y2="369.25" stroke="#202020" stroke-width="1.2"/>
<text x="490.00" y="373.33" font-size="12" text-anchor="end" >160</text>
<line x1="540.30" y1="505.7" x2="540.30" y2="502.7" stroke="#202020" stroke-width="1.2"/>
<text x="539.70" y="517.90" font-size="12" text-anchor="middle" >Rice</text>
<line x1="635.00" y1="505.7" x2="635.00" y2="502.7" stroke="#202020" stroke-width="1.2"/>
<text x="634.40" y="517.90" font-size="12" text-anchor="middle" >Maize</text>
<text x="0" y="0" font-size="13.05" text-anchor="start" transform="translate(471.00,503.40) rotate(-90)">Germination indexes (%)</text>
<text x="452.80" y="368.70" font-size="18" text-anchor="start" >H</text>
</svg></body></html>
